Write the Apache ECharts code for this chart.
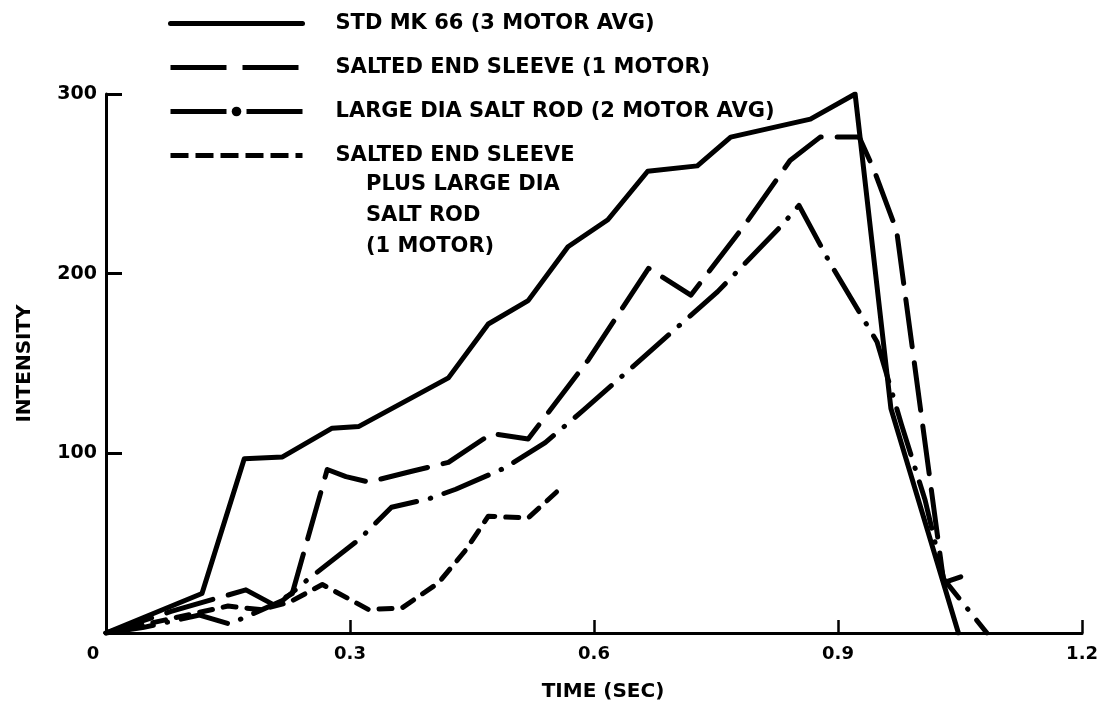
<!DOCTYPE html>
<html><head><meta charset="utf-8">
<script src="https://cdn.jsdelivr.net/npm/echarts/dist/echarts.min.js"></script>
<style>html,body{margin:0;padding:0;background:#fff}#c{width:1101px;height:709px}</style>
</head><body><div id="c"></div>
<script>
// ---- data ----
const seriesNames = ['STD MK 66 (3 MOTOR AVG)', 'SALTED END SLEEVE (1 MOTOR)', 'LARGE DIA SALT ROD (2 MOTOR AVG)', 'SALTED END SLEEVE'];
const legendExtra = ['PLUS LARGE DIA', 'SALT ROD', '(1 MOTOR)'];
const xTicks = [0, 0.3, 0.6, 0.9, 1.2];
const yTicks = [0, 100, 200, 300];

const stdTime      = [0, 0.118, 0.170, 0.217, 0.278, 0.311, 0.421, 0.470, 0.519, 0.568, 0.617, 0.666, 0.727, 0.768, 0.866, 0.921, 0.965, 1.048];
const stdIntensity = [0, 22, 97, 98, 114, 115, 142, 172, 185, 215, 230, 257, 260, 276, 286, 300, 125, 0];

const sesTime      = [0, 0.08, 0.172, 0.205, 0.229, 0.272, 0.295, 0.323, 0.376, 0.421, 0.474, 0.519, 0.593, 0.667, 0.719, 0.785, 0.841, 0.878, 0.926, 0.944, 0.972, 1.030, 1.068];
const sesIntensity = [0, 12, 24, 16, 22, 91, 87, 84, 90, 95, 111, 108, 152, 203, 188, 227, 263, 276, 276, 258, 224, 28, 34];

const ldsrTime      = [0, 0.045, 0.115, 0.152, 0.162, 0.217, 0.246, 0.311, 0.351, 0.399, 0.43, 0.491, 0.54, 0.587, 0.672, 0.752, 0.831, 0.852, 0.89, 0.948, 0.978, 1.007, 1.03, 1.083];
const ldsrIntensity = [0, 3, 10, 5, 7, 18, 29, 52, 70, 75, 80, 92, 106, 124, 158, 190, 227, 238, 206, 162, 116, 74, 30, 0];

const bothTime      = [0, 0.08, 0.15, 0.19, 0.225, 0.266, 0.323, 0.364, 0.409, 0.442, 0.47, 0.519, 0.56];
const bothIntensity = [0, 8, 15, 13, 17, 27, 13, 14, 28, 46, 65, 64, 81];

// ---- chart ----
const zip = (a, b) => a.map((v, i) => [v, b[i]]);
const FONT = 'DejaVu Sans';
const dashes = ['solid', [48, 16], [48, 14, 0.5, 14], [13, 11]];
const datasets = [zip(stdTime, stdIntensity), zip(sesTime, sesIntensity), zip(ldsrTime, ldsrIntensity), zip(bothTime, bothIntensity)];

const chart = echarts.init(document.getElementById('c'), null, {renderer: 'canvas'});
chart.setOption({
  animation: false,
  backgroundColor: '#fff',
  grid: {left: 106, right: 15, top: 94, bottom: 76, containLabel: false},
  xAxis: {
    type: 'value', min: xTicks[0], max: xTicks[xTicks.length - 1], interval: 0.3,
    name: 'TIME (SEC)', nameLocation: 'middle', nameGap: 49,
    nameTextStyle: {fontFamily: FONT, fontWeight: 'bold', fontSize: 20, color: '#000', padding: [0, 0, 0, 18]},
    axisLine: {lineStyle: {color: '#000', width: 3}},
    axisTick: {inside: true, length: 13, lineStyle: {color: '#000', width: 2.5}},
    splitLine: {show: false},
    axisLabel: {
      margin: 12, color: '#000', fontFamily: FONT, fontWeight: 'bold', fontSize: 18,
      formatter: v => { const t = String(Math.round(v * 10) / 10); return v === 0 ? '{o|' + t + '}' : t; },
      rich: {o: {fontFamily: FONT, fontWeight: 'bold', fontSize: 18, color: '#000', padding: [0, 26, 0, 0]}}
    }
  },
  yAxis: {
    type: 'value', min: yTicks[0], max: yTicks[yTicks.length - 1], interval: 100,
    name: 'INTENSITY', nameLocation: 'middle', nameGap: 71, nameRotate: 90,
    nameTextStyle: {fontFamily: FONT, fontWeight: 'bold', fontSize: 20, color: '#000'},
    axisLine: {show: true, lineStyle: {color: '#000', width: 3}},
    axisTick: {show: true, inside: true, length: 16, lineStyle: {color: '#000', width: 3}},
    splitLine: {show: false},
    axisLabel: {margin: 9, color: '#000', fontFamily: FONT, fontWeight: 'bold', fontSize: 19,
      formatter: v => v === 0 ? '' : String(v)}
  },
  legend: {
    orient: 'vertical', left: 163, top: 8, itemWidth: 132, itemHeight: 12, itemGap: 23,
    lineStyle: {width: 5},
    textStyle: {fontFamily: FONT, fontWeight: 'bold', fontSize: 21, color: '#000', padding: [0, 0, 0, 28]},
    data: [
      {name: seriesNames[0], itemStyle: {opacity: 0}, lineStyle: {width: 5}},
      {name: seriesNames[1], itemStyle: {opacity: 0}, lineStyle: {width: 5, type: [56, 16], cap: 'butt'}},
      {name: seriesNames[2], itemStyle: {color: '#000', opacity: 1, borderWidth: 0}, lineStyle: {width: 5, type: [56, 20], cap: 'butt'}},
      {name: seriesNames[3], itemStyle: {opacity: 0}, lineStyle: {width: 5, type: [18, 7], cap: 'butt'}}
    ]
  },
  graphic: [{
    type: 'text', left: 366, top: 169,
    style: {text: legendExtra.join('\n'), font: 'bold 21px "DejaVu Sans"', lineHeight: 31, fill: '#000'}
  }],
  series: datasets.map((d, i) => ({
    name: seriesNames[i], type: 'line', data: d, symbol: 'none', silent: true,
    lineStyle: {color: '#000', width: 5, type: dashes[i], cap: 'round', join: 'round'},
    itemStyle: {color: '#000'}
  }))
});
</script></body></html>
